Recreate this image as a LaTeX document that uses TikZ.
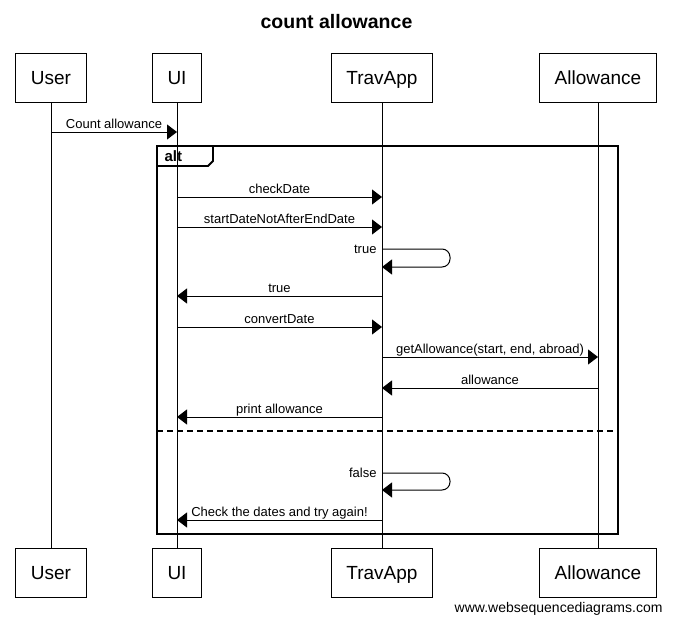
\documentclass[tikz,border=0pt]{standalone}
\usepackage{fontspec}
\setmainfont{Liberation Sans}
\usetikzlibrary{arrows.meta, positioning}

\begin{document}
\begin{tikzpicture}[x=1pt,y=-1pt,node distance=445pt,>={Triangle[length=10pt,width=15pt]},line width=1pt,
		actor/.style={draw, minimum height=49pt, inner xsep=15pt, text height=13.6pt, text depth=0pt, font=\fontsize{19}{22}\selectfont},
		lbl/.style={font=\fontsize{13}{15}\selectfont, inner sep=1pt, text depth=2pt},
		frame/.style={line width=1.8pt}]
		
		\useasboundingbox (0,0) rectangle (673,621);
		
		\node (title) 
			[font=\bfseries\fontsize{19.5}{22}\selectfont] at (336.5,22) {count allowance};
		
		\node (user) 
			[actor] at (51,77.5) {User};
			\node (user2) 
				[actor, below = of user] {User};
		\node (ui) 
			[actor] at (177,77.5) {UI};
			\node (ui2) 
				[actor, below = of ui] {UI};
		\node (trav) 
			[actor] at (382,77.5) {TravApp};
			\node (trav2) 
				[actor, below = of trav] {TravApp};
		\node (allow) 
			[actor] at (598,77.5) {Allowance};
			\node (allow2) 
				[actor, below = of allow] {Allowance};
		
		% lifelines
		\draw (user) -- (user2);
		\draw (ui) -- (ui2);
		\draw (trav) -- (trav2);
		\draw (allow) -- (allow2);
		
		% alt frame
		\draw [frame] (157,146) rectangle (618,534);
		\draw [frame] (157,166) -- (208,166) -- (213,161) -- (213,146);
		\node (alt) 
			[anchor=west, inner sep=0pt, font=\bfseries\fontsize{15}{17}\selectfont] at (164,156.5) {alt};
		\draw [frame, dash pattern=on 6pt off 4pt] (157,431) -- (618,431);
		
		\path [->]
		(user |- 0,132) edge node [lbl, above] {Count allowance} (ui |- 0,132)
		(ui |- 0,197) edge node [lbl, above] {checkDate} (trav |- 0,197)
		(ui |- 0,227) edge node [lbl, above] {startDateNotAfterEndDate} (trav |- 0,227)
		(trav |- 0,296) edge node [lbl, above] {true} (ui |- 0,296)
		(ui |- 0,327) edge node [lbl, above] {convertDate} (trav |- 0,327)
		(trav |- 0,357) edge node [lbl, above] {getAllowance(start, end, abroad)} (allow |- 0,357)
		(allow |- 0,388) edge node [lbl, above] {allowance} (trav |- 0,388)
		(trav |- 0,417) edge node [lbl, above] {print allowance} (ui |- 0,417)
		(trav |- 0,520) edge node [lbl, above] {Check the dates and try again!} (ui |- 0,520)
		;
		
		% self messages
		\draw [->, rounded corners=8pt] (trav |- 0,249) node [lbl, left=4pt, text depth=0pt] {true}
			-- (450,249) -- (450,267) -- (trav |- 0,267);
		\draw [->, rounded corners=8pt] (trav |- 0,473) node [lbl, left=4pt, text depth=0pt] {false}
			-- (450,473) -- (450,490) -- (trav |- 0,490);
		
		\node (site) 
			[anchor=base east, inner sep=0pt, font=\fontsize{14}{16}\selectfont] at (663,612) {www.websequencediagrams.com};
	\end{tikzpicture}
\end{document}
